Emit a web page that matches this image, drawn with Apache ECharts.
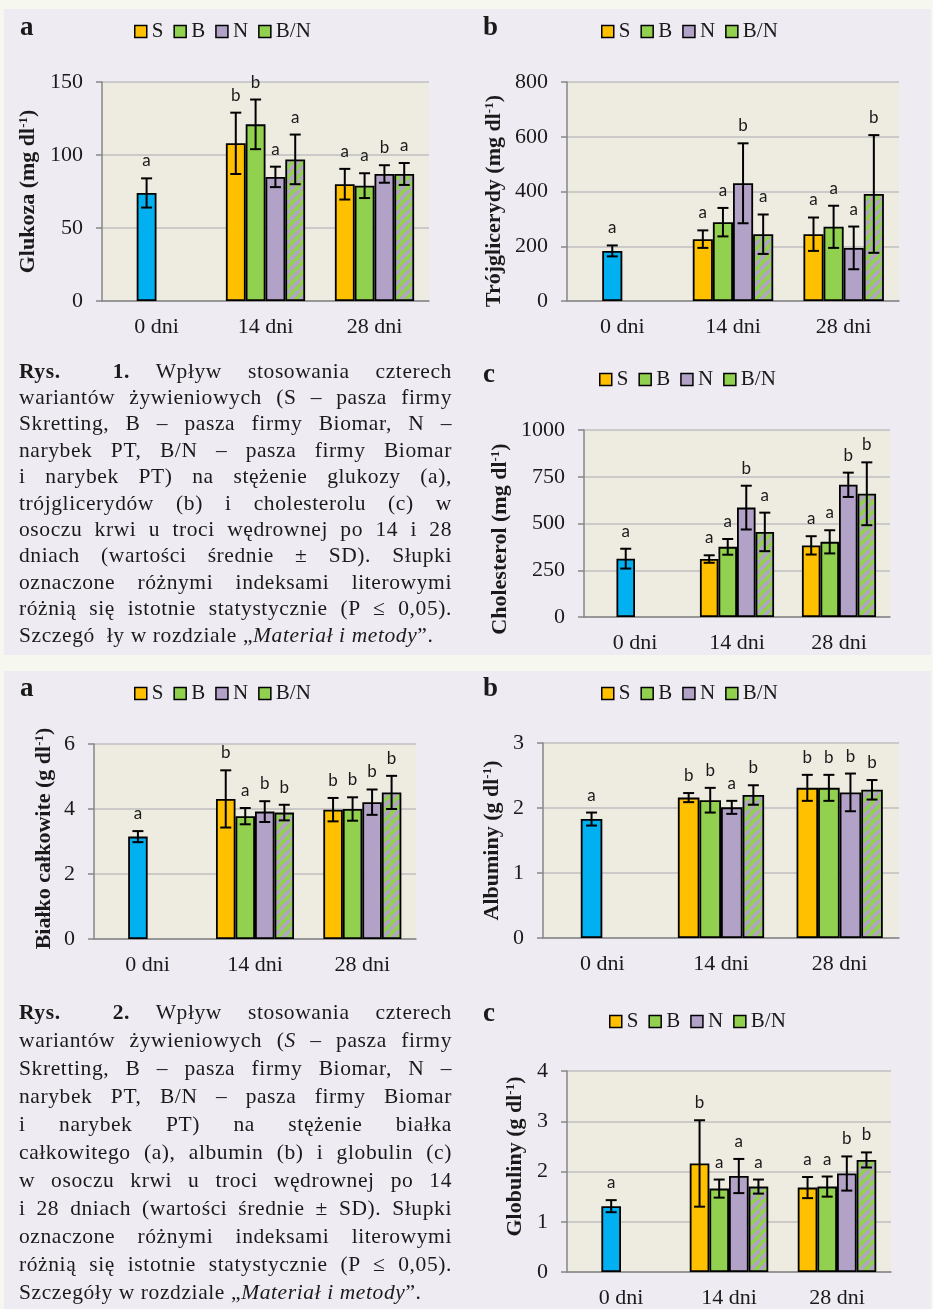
<!DOCTYPE html>
<html>
<head>
<meta charset="utf-8">
<script src="https://cdn.jsdelivr.net/npm/echarts@6/dist/echarts.min.js"></script>
<style>
  body { margin: 0; background: #f6f8f0; }
  #page { position: relative; width: 933px; height: 1309px; overflow: hidden; }
  .panel { position: absolute; left: 4px; width: 927px; background: #eeebf3; }
  #container { position: absolute; left: 0; top: 0; width: 933px; height: 1309px; }
  .caption { position: absolute; left: 19px; width: 433px; font-family: 'Liberation Serif', serif; font-size: 21.5px; letter-spacing: 0.6px; color: #1a1a1a; }
  .caption div { white-space: nowrap; text-align: justify; text-align-last: justify; }
  .caption div.last { text-align-last: left; }
</style>
</head>
<body>
<div id="page">
  <div class="panel" style="top:9px;height:646px"></div>
  <div class="panel" style="top:671px;height:638px"></div>
  <div id="container"></div>

  <div class="caption" style="top:357.5px;line-height:26.4px">
    <div><b>Rys.&nbsp; 1.</b> Wpływ stosowania czterech</div>
    <div>wariantów żywieniowych (S – pasza firmy</div>
    <div>Skretting, B – pasza firmy Biomar, N –</div>
    <div>narybek PT, B/N – pasza firmy Biomar</div>
    <div>i narybek PT) na stężenie glukozy (a),</div>
    <div>trójglicerydów (b) i cholesterolu (c) w</div>
    <div>osoczu krwi u troci wędrownej po 14 i 28</div>
    <div>dniach (wartości średnie ± SD). Słupki</div>
    <div>oznaczone różnymi indeksami literowymi</div>
    <div>różnią się istotnie statystycznie (P ≤ 0,05).</div>
    <div class="last">Szczegó&nbsp; ły w rozdziale „<i>Materiał i metody</i>”.</div>
  </div>

  <div class="caption" style="top:997.7px;line-height:28px">
    <div><b>Rys.&nbsp; 2.</b> Wpływ stosowania czterech</div>
    <div>wariantów żywieniowych (<i>S</i> – pasza firmy</div>
    <div>Skretting, B – pasza firmy Biomar, N –</div>
    <div>narybek PT, B/N – pasza firmy Biomar</div>
    <div>i narybek PT) na stężenie białka</div>
    <div>całkowitego (a), albumin (b) i globulin (c)</div>
    <div>w osoczu krwi u troci wędrownej po 14</div>
    <div>i 28 dniach (wartości średnie ± SD). Słupki</div>
    <div>oznaczone różnymi indeksami literowymi</div>
    <div>różnią się istotnie statystycznie (P ≤ 0,05).</div>
    <div class="last">Szczegóły w rozdziale „<i>Materiał i metody</i>”.</div>
  </div>
</div>
<script type="text/javascript">
  var days = ['0 dni', '14 dni', '28 dni'];
  var groups = ['S', 'B', 'N', 'B/N'];

  // each chart: value at 0 dni [mean, SD], then S, B, N, B/N at 14 and 28 dni
  // letters: 0 dni, S B N B/N at 14 dni, S B N B/N at 28 dni
  var glukozaDay0 = [74, 10];
  var glukozaMean = [[108, 80], [121, 79], [85, 87], [97, 87]];
  var glukozaSd = [[21, 10.5], [17, 8.5], [7, 6], [17, 7.5]];
  var glukozaLetters = ['a', 'b', 'b', 'a', 'a', 'a', 'a', 'b', 'a'];

  var trojglDay0 = [183, 20];
  var trojglMean = [[226, 244], [288, 271], [430, 194], [244, 391]];
  var trojglSd = [[32, 61], [52, 77], [146, 78], [72, 215]];
  var trojglLetters = ['a', 'a', 'a', 'b', 'a', 'a', 'a', 'a', 'b'];

  var cholDay0 = [312, 53];
  var cholMean = [[310, 383], [375, 402], [585, 707], [455, 659]];
  var cholSd = [[20, 49], [42, 62], [117, 65], [103, 168]];
  var cholLetters = ['a', 'a', 'a', 'b', 'a', 'a', 'a', 'b', 'b'];

  var bialkoDay0 = [3.15, 0.17];
  var bialkoMean = [[4.31, 3.98], [3.78, 4.0], [3.92, 4.21], [3.89, 4.51]];
  var bialkoSd = [[0.88, 0.36], [0.25, 0.36], [0.32, 0.39], [0.24, 0.51]];
  var bialkoLetters = ['a', 'b', 'a', 'b', 'b', 'b', 'b', 'b', 'b'];

  var albDay0 = [1.83, 0.1];
  var albMean = [[2.16, 2.31], [2.12, 2.31], [2.01, 2.24], [2.2, 2.28]];
  var albSd = [[0.07, 0.2], [0.19, 0.2], [0.1, 0.29], [0.15, 0.15]];
  var albLetters = ['a', 'b', 'b', 'a', 'b', 'b', 'b', 'b', 'b'];

  var globDay0 = [1.31, 0.12];
  var globMean = [[2.16, 1.68], [1.66, 1.70], [1.91, 1.96], [1.70, 2.23]];
  var globSd = [[0.86, 0.21], [0.18, 0.2], [0.34, 0.34], [0.14, 0.15]];
  var globLetters = ['a', 'b', 'a', 'a', 'a', 'a', 'a', 'b', 'b'];

  var SERIF = "'Liberation Serif', serif";
  var SANS = "Lato, sans-serif";
  var GAP = 0.273;
  var colors = ['#ffc000', '#92d050', '#b3a2c7'];
  var day0Color = '#00b0f0';

  function makeHatch() {
    var s = 10;
    var cv = document.createElement('canvas');
    cv.width = s; cv.height = s;
    var g = cv.getContext('2d');
    g.fillStyle = '#92d050';
    g.fillRect(0, 0, s, s);
    g.strokeStyle = '#b3a2c7';
    g.lineWidth = 3.5;
    g.beginPath();
    [-s, 0, s].forEach(function(o) { g.moveTo(o, s); g.lineTo(o + s, 0); });
    g.stroke();
    return { image: cv, repeat: 'repeat' };
  }
  var hatch = makeHatch();

  var charts = [
    { title: 'Glukoza (mg dl', day0: glukozaDay0, mean: glukozaMean, sd: glukozaSd, letters: glukozaLetters,
      max: 150, step: 50, box: [102, 82, 327, 219], legend: [134, 32], tag: ['a', 20, 37], nameGap: 63, namePad: [0, 0, 0, 0] },
    { title: 'Trójglicerydy (mg dl', day0: trojglDay0, mean: trojglMean, sd: trojglSd, letters: trojglLetters,
      max: 800, step: 200, box: [567, 82, 332, 219], legend: [601, 32], tag: ['b', 483, 37], nameGap: 62, namePad: [0, 19, 0, 0] },
    { title: 'Cholesterol (mg dl', day0: cholDay0, mean: cholMean, sd: cholSd, letters: cholLetters,
      max: 1000, step: 250, box: [584, 430, 306, 187], legend: [599, 380], tag: ['c', 483, 384], nameGap: 73, namePad: [0, 31, 0, 0] },
    { title: 'Białko całkowite (g dl', day0: bialkoDay0, mean: bialkoMean, sd: bialkoSd, letters: bialkoLetters,
      max: 6, step: 2, box: [94, 744, 322, 195], legend: [134, 694], tag: ['a', 20, 698], nameGap: 39, namePad: [0, 0, 0, 6] },
    { title: 'Albuminy (g dl', day0: albDay0, mean: albMean, sd: albSd, letters: albLetters,
      max: 3, step: 1, box: [543, 743, 356, 195], legend: [601, 694], tag: ['b', 483, 698], nameGap: 40, namePad: [0, 0, 0, 0] },
    { title: 'Globuliny (g dl', day0: globDay0, mean: globMean, sd: globSd, letters: globLetters,
      max: 4, step: 1, box: [567, 1071, 324, 205], legend: [609, 1022], tag: ['c', 483, 1023], nameGap: 41, namePad: [0, 0, 0, 30] }
  ];

  function errRenderer(letters) {
    return function(params, api) {
      var cat = api.value(0), mean = api.value(1), sd = api.value(2), slot = api.value(3);
      var bandW = api.size([1, 0])[0];
      var barW = bandW * (1 - GAP) / 4;
      var x = api.coord([cat, 0])[0] + (slot - 1.5) * barW;
      var yTop = api.coord([cat, mean + sd])[1];
      var yBot = api.coord([cat, mean - sd])[1];
      var cap = 5.5;
      var st = { stroke: '#000', lineWidth: 2 };
      return {
        type: 'group',
        children: [
          { type: 'line', shape: { x1: x, y1: yTop, x2: x, y2: yBot }, style: st },
          { type: 'line', shape: { x1: x - cap, y1: yTop, x2: x + cap, y2: yTop }, style: st },
          { type: 'line', shape: { x1: x - cap, y1: yBot, x2: x + cap, y2: yBot }, style: st },
          { type: 'text', x: x, y: yTop - 9,
            style: { text: letters[params.dataIndex], fill: '#1a1a1a', fontFamily: SANS, fontSize: 17,
                     align: 'center', verticalAlign: 'bottom' } }
        ]
      };
    };
  }

  var axisGray = { color: '#868686', width: 1.5 };
  var option = { animation: false, grid: [], xAxis: [], yAxis: [], legend: [], series: [], graphic: [] };

  charts.forEach(function(c, i) {
    option.grid.push({ left: c.box[0], top: c.box[1], width: c.box[2], height: c.box[3],
      show: true, backgroundColor: '#eeece1', borderWidth: 0 });
    option.xAxis.push({
      type: 'category', gridIndex: i, data: days,
      axisLine: { lineStyle: axisGray },
      axisTick: { length: 6, lineStyle: axisGray },
      axisLabel: { margin: 15, color: '#1a1a1a', fontFamily: SERIF, fontSize: 22 }
    });
    option.yAxis.push({
      type: 'value', gridIndex: i, min: 0, max: c.max, interval: c.step,
      axisLine: { show: true, lineStyle: axisGray },
      axisTick: { show: true, length: 6, lineStyle: axisGray },
      axisLabel: { margin: 19, color: '#1a1a1a', fontFamily: SERIF, fontSize: 22,
                   formatter: function(v) { return String(v); } },
      splitLine: { lineStyle: { color: '#bfbfbf', width: 1.5 } },
      name: '{t|' + c.title + '}{s|-1}{t|)}',
      nameLocation: 'middle', nameRotate: 90, nameGap: c.nameGap,
      nameTextStyle: {
        fontFamily: SERIF, fontWeight: 'bold', fontSize: 22, color: '#1a1a1a', padding: c.namePad,
        rich: {
          t: { fontFamily: SERIF, fontWeight: 'bold', fontSize: 22, color: '#1a1a1a' },
          s: { fontFamily: SERIF, fontWeight: 'bold', fontSize: 13, color: '#1a1a1a', verticalAlign: 'top' }
        }
      }
    });
    option.legend.push({
      left: c.legend[0], top: c.legend[1] - 11, padding: 0,
      itemWidth: 12, itemHeight: 12, itemGap: 10, icon: 'rect', selectedMode: false,
      itemStyle: { borderColor: '#000', borderWidth: 1.5 },
      textStyle: { fontFamily: SERIF, fontSize: 21, color: '#1a1a1a' },
      data: groups.map(function(g, k) {
        return { name: g, itemStyle: { color: k === 3 ? '#92d050' : colors[k] } };
      })
    });
    option.graphic.push({
      type: 'text', x: c.tag[1], y: c.tag[2] - 9.1,
      style: { text: c.tag[0], fill: '#1a1a1a', fontFamily: SERIF, fontWeight: 'bold', fontSize: 27, verticalAlign: 'middle' }
    });

    groups.forEach(function(g, k) {
      var first = k === 1 ? { value: c.day0[0], itemStyle: { color: day0Color } } : '-';
      option.series.push({
        type: 'bar', name: g, xAxisIndex: i, yAxisIndex: i, silent: true,
        barGap: '0%', barCategoryGap: (GAP * 100) + '%',
        itemStyle: { color: k === 3 ? hatch : colors[k], borderColor: '#000', borderWidth: 1.8 },
        data: [first, c.mean[k][0], c.mean[k][1]]
      });
    });

    var err = [[0, c.day0[0], c.day0[1], 1]];
    [1, 2].forEach(function(d) {
      groups.forEach(function(g, k) { err.push([d, c.mean[k][d - 1], c.sd[k][d - 1], k]); });
    });
    option.series.push({
      type: 'custom', xAxisIndex: i, yAxisIndex: i, silent: true, z: 5,
      renderItem: errRenderer(c.letters),
      encode: { x: 0, y: 1 },
      data: err
    });
  });

  var myChart = echarts.init(document.getElementById('container'));
  myChart.setOption(option);
</script>
</body>
</html>
